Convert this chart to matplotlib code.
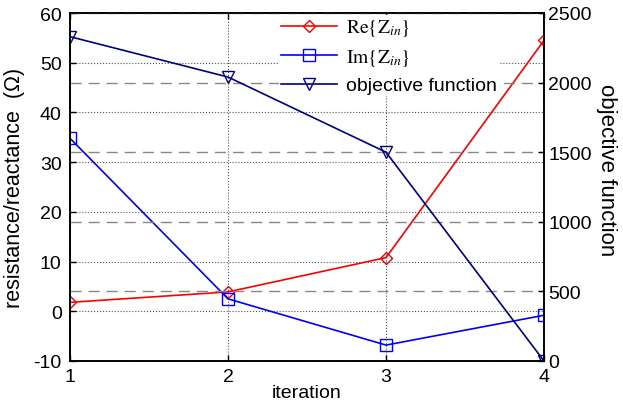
import matplotlib
matplotlib.use("Agg")
import matplotlib.pyplot as plt

plt.rcParams['font.family'] = ['Liberation Sans', 'DejaVu Sans']
plt.rcParams['mathtext.fontset'] = 'stix'
plt.rcParams['axes.unicode_minus'] = False

# данни, отчетени от графиката
iterations = [1, 2, 3, 4]
re_zin = [1.8, 3.9, 10.8, 54.5]
im_zin = [34.8, 2.5, -6.8, -0.8]
objective = [2330, 2040, 1500, 0]

left_ticks = [-10, 0, 10, 20, 30, 40, 50, 60]
right_ticks = [0, 500, 1000, 1500, 2000, 2500]

fig = plt.figure(figsize=(6.23, 4.06), dpi=100)
ax1 = fig.add_axes([70/623, 44/406, 474/623, 348/406])
ax2 = ax1.twinx()

l1, = ax1.plot(iterations, re_zin, color='red', lw=1.2, marker='D', ms=6,
               mfc='none', mec='red', mew=1.0)
l2, = ax1.plot(iterations, im_zin, color='blue', lw=1.2, marker='s', ms=8,
               mfc='none', mec='blue', mew=1.0)
l3, = ax2.plot(iterations, objective, color='navy', lw=1.2, marker='v', ms=9,
               mfc='none', mec='navy', mew=1.0)

ax1.set_xlim(1, 4)
ax1.set_ylim(-10, 60)
ax1.set_xticks(iterations)
ax1.set_yticks(left_ticks)
ax2.set_ylim(0, 2500)
ax2.set_yticks(right_ticks)

ax1.grid(True, linestyle=':', color='#555555', lw=0.8)
ax2.grid(True, axis='y', linestyle=(0, (8, 5)), color='#888888', lw=1.0)

for ax in (ax1, ax2):
    ax.tick_params(direction='in', labelsize=14, length=4, width=1)
    for s in ax.spines.values():
        s.set_linewidth(1.2)
ax1.tick_params(axis='x', pad=5, top=True)
ax1.tick_params(axis='y', pad=6)
ax2.tick_params(axis='y', pad=3)

ax1.set_xlabel('iteration', fontsize=14, labelpad=-1)
ax1.set_ylabel('resistance/reactance  (Ω)', fontsize=15.5, labelpad=6)
ax2.set_ylabel('objective function', fontsize=16, rotation=270, va='bottom')
ax2.yaxis.set_label_coords(1.11, 0.55)

leg = ax2.legend([l1, l2, l3],
                 [r'$\mathrm{Re}\{\mathrm{Z}_{in}\}$', r'$\mathrm{Im}\{\mathrm{Z}_{in}\}$',
                  'objective function'],
                 loc='upper right', bbox_to_anchor=(0.905, 0.993), borderaxespad=0,
                 fontsize=14, frameon=True, framealpha=1, edgecolor='white',
                 handlelength=2.9, handletextpad=0.45, borderpad=0.1,
                 labelspacing=0.45)
leg.get_frame().set_linewidth(0)

fig.savefig('out.png', dpi=100)
